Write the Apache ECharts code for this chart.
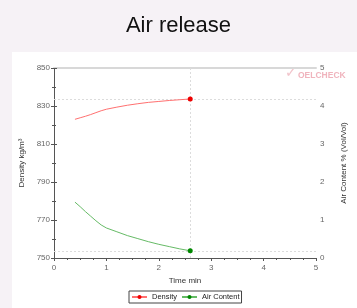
<!DOCTYPE html>
<html><head><meta charset="utf-8">
<script src="https://cdn.jsdelivr.net/npm/echarts@6/dist/echarts.min.js"></script>
<style>html,body{margin:0;padding:0;background:#f6f2f6;}#c{width:357px;height:308px;}</style>
</head><body><div id="c"></div>
<script>
const times = [0.4,0.5,0.6,0.7,0.8,0.9,1.0,1.2,1.4,1.6,1.8,2.0,2.2,2.4,2.6];
const density = [823.0,823.8,824.6,825.5,826.5,827.5,828.3,829.4,830.4,831.2,831.9,832.4,832.9,833.3,833.7];
const airContent = [1.47,1.35,1.22,1.10,0.98,0.87,0.79,0.69,0.59,0.51,0.43,0.36,0.30,0.24,0.19];
const xTicks = [0,1,2,3,4,5];
const densityTicks = [750,770,790,810,830,850];
const airTicks = [0,1,2,3,4,5];

const chart = echarts.init(document.getElementById('c'));
const last = times.length - 1;
const pairs = (ys) => times.map((t,i)=>[t,ys[i]]);
const font = 'Liberation Sans, Arial, sans-serif';
const tickLbl = {color:'#666', fontSize:8, fontFamily:font};
const dotted = {color:'#dcdcdc', type:[2,2], width:1};
chart.setOption({
  backgroundColor:'#f6f2f6',
  animation:false,
  title:{text:'Air release', left:'center', top:10, textStyle:{fontSize:22, fontWeight:'normal', color:'#111', fontFamily:font}},
  graphic:[
    {type:'rect', shape:{x:12,y:52,width:345,height:256}, style:{fill:'#ffffff'}, z:-100, silent:true},
    {type:'text', left:285, top:66, style:{text:'✓', fill:'#f2c4cb', fontSize:14, fontWeight:'bold', fontFamily:'DejaVu Sans'}, z:-50, silent:true},
    {type:'text', left:298, top:71, style:{text:'OELCHECK', fill:'#f0b4bd', fontSize:8.5, fontWeight:'bold', fontFamily:font}, z:-50, silent:true}
  ],
  grid:{left:54, right:41, top:68, bottom:50},
  legend:{
    left:129, top:291, padding:[2,2], itemGap:4, itemWidth:15, itemHeight:5,
    borderColor:'#444', borderWidth:1, backgroundColor:'#fff',
    textStyle:{fontSize:7.5, color:'#222', fontFamily:font},
    data:['Density','Air Content']
  },
  xAxis:[
    {type:'value', min:0, max:5, interval:1, position:'bottom',
     name:'Time min', nameLocation:'middle', nameGap:16, nameTextStyle:{fontSize:8,color:'#333',fontFamily:font},
     axisLine:{lineStyle:{color:'#555'}}, axisTick:{show:true, inside:false, length:3, lineStyle:{color:'#555'}},
     minorTick:{show:true, splitNumber:4, length:2, lineStyle:{color:'#555'}},
     axisLabel:Object.assign({margin:6, formatter:(v)=>xTicks.includes(v)?String(v):''}, tickLbl), splitLine:{show:false}},
    {type:'value', min:0, max:5, position:'top', axisLine:{show:true, onZero:false, lineStyle:{color:'#d8d8d8', width:2}},
     axisTick:{show:false}, axisLabel:{show:false}, splitLine:{show:false}}
  ],
  yAxis:[
    {type:'value', min:750, max:850, interval:20, position:'left',
     name:'Density kg/m³', nameLocation:'middle', nameGap:28, nameRotate:90, nameTextStyle:{fontSize:8,color:'#333',fontFamily:font},
     axisLine:{show:true, lineStyle:{color:'#555'}}, axisTick:{show:true, length:3, lineStyle:{color:'#555'}},
     minorTick:{show:true, splitNumber:2, length:2, lineStyle:{color:'#555'}},
     axisLabel:Object.assign({margin:4, formatter:(v)=>densityTicks.includes(v)?String(v):''}, tickLbl), splitLine:{show:false}},
    {type:'value', min:0, max:5, interval:1, position:'right',
     name:'Air Content % (Vol/Vol)', nameLocation:'middle', nameGap:24, nameRotate:90, nameTextStyle:{fontSize:8,color:'#333',fontFamily:font},
     axisLine:{show:true, lineStyle:{color:'#555'}}, axisTick:{show:true, length:3, lineStyle:{color:'#555'}},
     minorTick:{show:true, splitNumber:2, length:2, lineStyle:{color:'#555'}},
     axisLabel:Object.assign({margin:4, formatter:(v)=>airTicks.includes(v)?String(v):''}, tickLbl), splitLine:{show:false}}
  ],
  series:[
    {name:'Density', type:'line', xAxisIndex:0, yAxisIndex:0, data:pairs(density), z:3,
     symbol:'circle', symbolSize:(v,p)=>p.dataIndex===last?5:0, showAllSymbol:true,
     lineStyle:{color:'#ff7070', width:1}, itemStyle:{color:'#ee0000', borderWidth:0}, color:'#ee0000',
     emphasis:{disabled:true},
     markLine:{silent:true, z:1, symbol:'none', label:{show:false}, lineStyle:dotted,
       data:[{yAxis:density[last]}, {xAxis:times[last]}]}},
    {name:'Air Content', type:'line', xAxisIndex:0, yAxisIndex:1, data:pairs(airContent), z:3,
     symbol:'circle', symbolSize:(v,p)=>p.dataIndex===last?5:0, showAllSymbol:true,
     lineStyle:{color:'#66bb66', width:1}, itemStyle:{color:'#008800', borderWidth:0}, color:'#008800',
     emphasis:{disabled:true},
     markLine:{silent:true, z:1, symbol:'none', label:{show:false}, lineStyle:dotted,
       data:[{yAxis:airContent[last]}]}}
  ]
});
</script></body></html>
